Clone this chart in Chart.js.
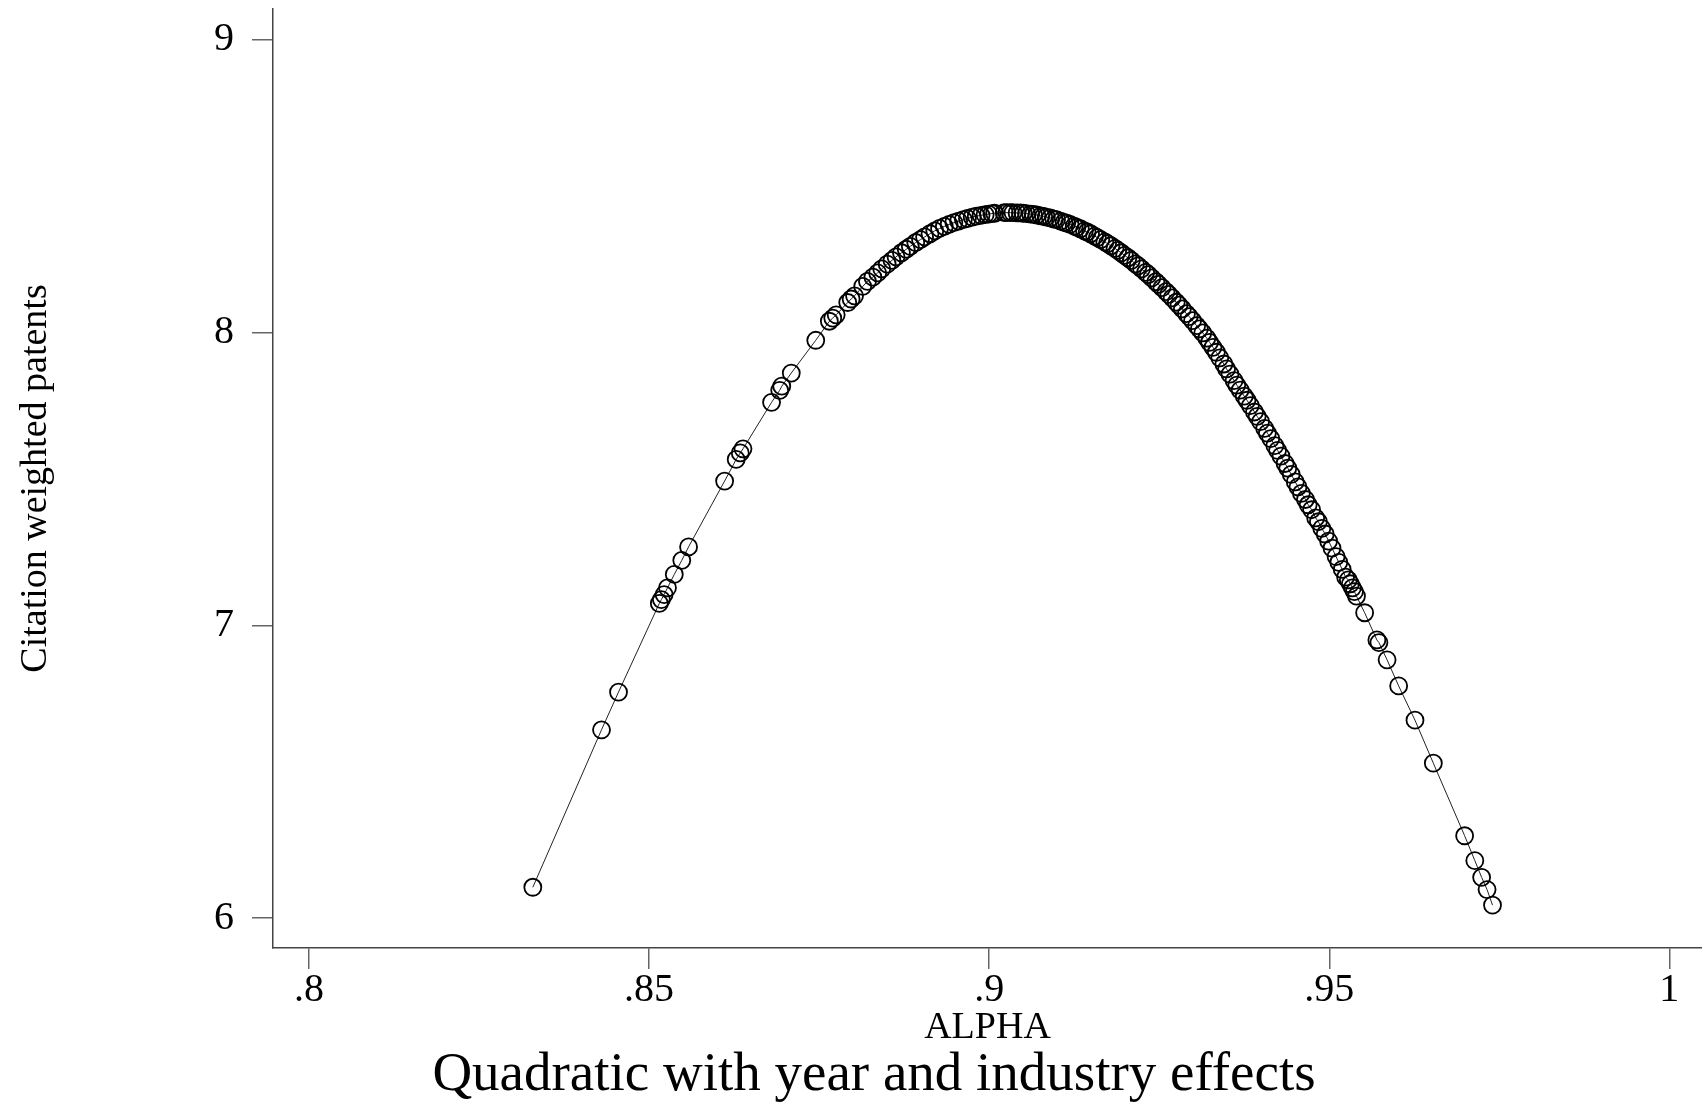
<!DOCTYPE html>
<html>
<head>
<meta charset="utf-8">
<script src="https://cdn.jsdelivr.net/npm/chart.js@4/dist/chart.umd.min.js"></script>
<style>
  html, body { margin: 0; padding: 0; background: #fff; }
  #wrap { width: 1702px; height: 1110px; }
</style>
</head>
<body>
<div id="wrap"><canvas id="chart" width="1702" height="1110"></canvas></div>
<script>
// values (ALPHA vs fitted citation weighted patents)
var alphaValues = [
    0.8329, 0.8430, 0.8455, 0.8515, 0.8518, 0.8522, 0.8527, 0.8537, 0.8548, 0.8558,
    0.8611, 0.8628, 0.8634, 0.8638, 0.8680, 0.8692, 0.8695, 0.8709, 0.8745, 0.8765,
    0.8770, 0.8775, 0.8792, 0.8797, 0.8802, 0.8814, 0.8821, 0.8829, 0.8836,
    0.8842, 0.8850, 0.8857, 0.8863, 0.8871, 0.8878, 0.8884, 0.8892, 0.8899, 0.8905,
    0.8913, 0.8920, 0.8927, 0.8934, 0.8941, 0.8948, 0.8955, 0.8962, 0.8968, 0.8975,
    0.8981, 0.8988, 0.8994, 0.8999, 0.9004, 0.9008,
    0.9022, 0.9026, 0.9031, 0.9035, 0.9041, 0.9046, 0.9050, 0.9055, 0.9061, 0.9065,
    0.9070, 0.9076, 0.9080, 0.9084, 0.9090, 0.9095, 0.9099, 0.9105, 0.9110, 0.9114,
    0.9119, 0.9125, 0.9129, 0.9134, 0.9140, 0.9144, 0.9149, 0.9155, 0.9159, 0.9164,
    0.9170, 0.9174, 0.9179, 0.9185, 0.9189, 0.9194, 0.9199, 0.9204, 0.9209, 0.9215,
    0.9219, 0.9224, 0.9230, 0.9234, 0.9239, 0.9245, 0.9249, 0.9254, 0.9260, 0.9264,
    0.9269, 0.9275, 0.9279, 0.9284, 0.9290, 0.9294, 0.9299, 0.9305, 0.9309, 0.9314,
    0.9320, 0.9324, 0.9329, 0.9334, 0.9339, 0.9345, 0.9349, 0.9354, 0.9360, 0.9364,
    0.9369, 0.9375, 0.9379, 0.9384, 0.9390, 0.9394, 0.9399, 0.9405, 0.9409, 0.9414,
    0.9420, 0.9424, 0.9429, 0.9435, 0.9439, 0.9444, 0.9450, 0.9454, 0.9459, 0.9465,
    0.9469, 0.9474, 0.9480, 0.9484, 0.9489, 0.9494, 0.9499, 0.9504, 0.9510, 0.9514,
    0.9519, 0.9524, 0.9528, 0.9531, 0.9534, 0.9537, 0.9540,
    0.9552, 0.9570, 0.9573, 0.9585, 0.9602, 0.9626, 0.9653, 0.9699, 0.9714, 0.9724,
    0.9732, 0.9740
];
var patentValues = [
    6.105, 6.643, 6.772, 7.075, 7.088, 7.105, 7.128, 7.174, 7.222, 7.268,
    7.493, 7.567, 7.589, 7.603, 7.762, 7.803, 7.817, 7.862, 7.974, 8.039,
    8.050, 8.061, 8.103, 8.115, 8.126, 8.158, 8.175, 8.190, 8.204,
    8.218, 8.234, 8.247, 8.259, 8.273, 8.285, 8.295, 8.308, 8.318, 8.327,
    8.338, 8.348, 8.356, 8.363, 8.370, 8.376, 8.381, 8.386, 8.390, 8.395,
    8.398, 8.401, 8.403, 8.405, 8.407, 8.408,
    8.410, 8.410, 8.410, 8.410, 8.409, 8.409, 8.408, 8.407, 8.405, 8.404,
    8.402, 8.399, 8.397, 8.395, 8.392, 8.388, 8.386, 8.381, 8.377, 8.374,
    8.370, 8.364, 8.360, 8.355, 8.348, 8.344, 8.338, 8.330, 8.325, 8.318,
    8.310, 8.304, 8.297, 8.288, 8.281, 8.273, 8.264, 8.256, 8.247, 8.235,
    8.228, 8.218, 8.206, 8.198, 8.187, 8.174, 8.165, 8.154, 8.140, 8.131,
    8.119, 8.104, 8.094, 8.081, 8.065, 8.055, 8.041, 8.024, 8.013, 7.999,
    7.981, 7.967, 7.950, 7.933, 7.914, 7.893, 7.876, 7.858, 7.836, 7.821,
    7.804, 7.783, 7.769, 7.751, 7.729, 7.714, 7.696, 7.673, 7.657, 7.638,
    7.614, 7.598, 7.578, 7.553, 7.537, 7.516, 7.490, 7.473, 7.451, 7.430,
    7.412, 7.395, 7.367, 7.354, 7.331, 7.312, 7.288, 7.264, 7.235, 7.215,
    7.191, 7.165, 7.155, 7.142, 7.128, 7.115, 7.100,
    7.043, 6.950, 6.941, 6.882, 6.793, 6.676, 6.529, 6.281, 6.196, 6.139,
    6.097, 6.044
];
var xTicks = [0.8, 0.85, 0.9, 0.95, 1];
var xTickLabels = ['.8', '.85', '.9', '.95', '1'];
var yTicks = [6, 7, 8, 9];
var yTickLabels = ['6', '7', '8', '9'];
var chartTitle = 'Quadratic with year and industry effects';

var serif = "'Liberation Serif', 'Times New Roman', serif";
var tickFont = { family: serif, size: 40, lineHeight: 1 };
var axisTitleFont = { family: serif, size: 38, lineHeight: 1 };

var points = alphaValues.map(function (a, i) {
    return { x: a, y: patentValues[i] };
});

// the graph title sits a little left of the canvas centre, as in the original
var bottomTitle = {
    id: 'bottomTitle',
    afterDraw: function (chart) {
        var ctx = chart.ctx;
        ctx.save();
        ctx.font = '55px ' + serif;
        ctx.fillStyle = '#000';
        ctx.textAlign = 'center';
        ctx.textBaseline = 'middle';
        ctx.fillText(chartTitle, 874, 1076);
        ctx.restore();
    }
};

new Chart(document.getElementById('chart'), {
    type: 'scatter',
    data: {
        datasets: [{
            data: points,
            showLine: true,
            borderColor: '#222',
            borderWidth: 1,
            pointRadius: 8.5,
            pointBorderWidth: 1.8,
            pointBorderColor: '#000',
            pointBackgroundColor: 'rgba(0,0,0,0)',
            clip: false
        }]
    },
    plugins: [bottomTitle],
    options: {
        responsive: false,
        animation: false,
        events: [],
        layout: { autoPadding: false, padding: { top: 9, left: 0, right: 0, bottom: 0 } },
        plugins: {
            legend: { display: false },
            tooltip: { enabled: false },
            title: { display: false }
        },
        scales: {
            x: {
                type: 'linear',
                min: 0.7947,
                max: 1.0048,
                afterFit: function (scale) {
                    scale.height = 162;
                    scale.paddingLeft = 0;
                    scale.paddingRight = 0;
                },
                afterBuildTicks: function (scale) {
                    scale.ticks = xTicks.map(function (v) { return { value: v }; });
                },
                ticks: {
                    callback: function (value, index) { return xTickLabels[index]; },
                    font: tickFont,
                    color: '#000',
                    padding: 1,
                    maxRotation: 0,
                    autoSkip: false
                },
                grid: { drawOnChartArea: false, drawTicks: true, tickLength: 21, color: '#666', lineWidth: 1.5 },
                border: { display: true, color: '#444', width: 1.5 },
                title: {
                    display: true,
                    text: 'ALPHA',
                    color: '#000',
                    font: axisTitleFont,
                    padding: { top: 0, bottom: 63 }
                }
            },
            y: {
                type: 'linear',
                min: 5.8975,
                max: 9.1059,
                afterFit: function (scale) {
                    scale.width = 273;
                    scale.paddingTop = 0;
                    scale.paddingBottom = 0;
                },
                afterBuildTicks: function (scale) {
                    scale.ticks = yTicks.map(function (v) { return { value: v }; });
                },
                ticks: {
                    callback: function (value, index) { return yTickLabels[index]; },
                    font: tickFont,
                    color: '#000',
                    padding: 18,
                    autoSkip: false
                },
                grid: { drawOnChartArea: false, drawTicks: true, tickLength: 21, color: '#666', lineWidth: 1.5 },
                border: { display: true, color: '#444', width: 1.5 },
                title: {
                    display: true,
                    text: 'Citation weighted patents',
                    color: '#000',
                    font: axisTitleFont,
                    padding: { top: 17, bottom: 0 }
                }
            }
        }
    }
});
</script>
</body>
</html>
